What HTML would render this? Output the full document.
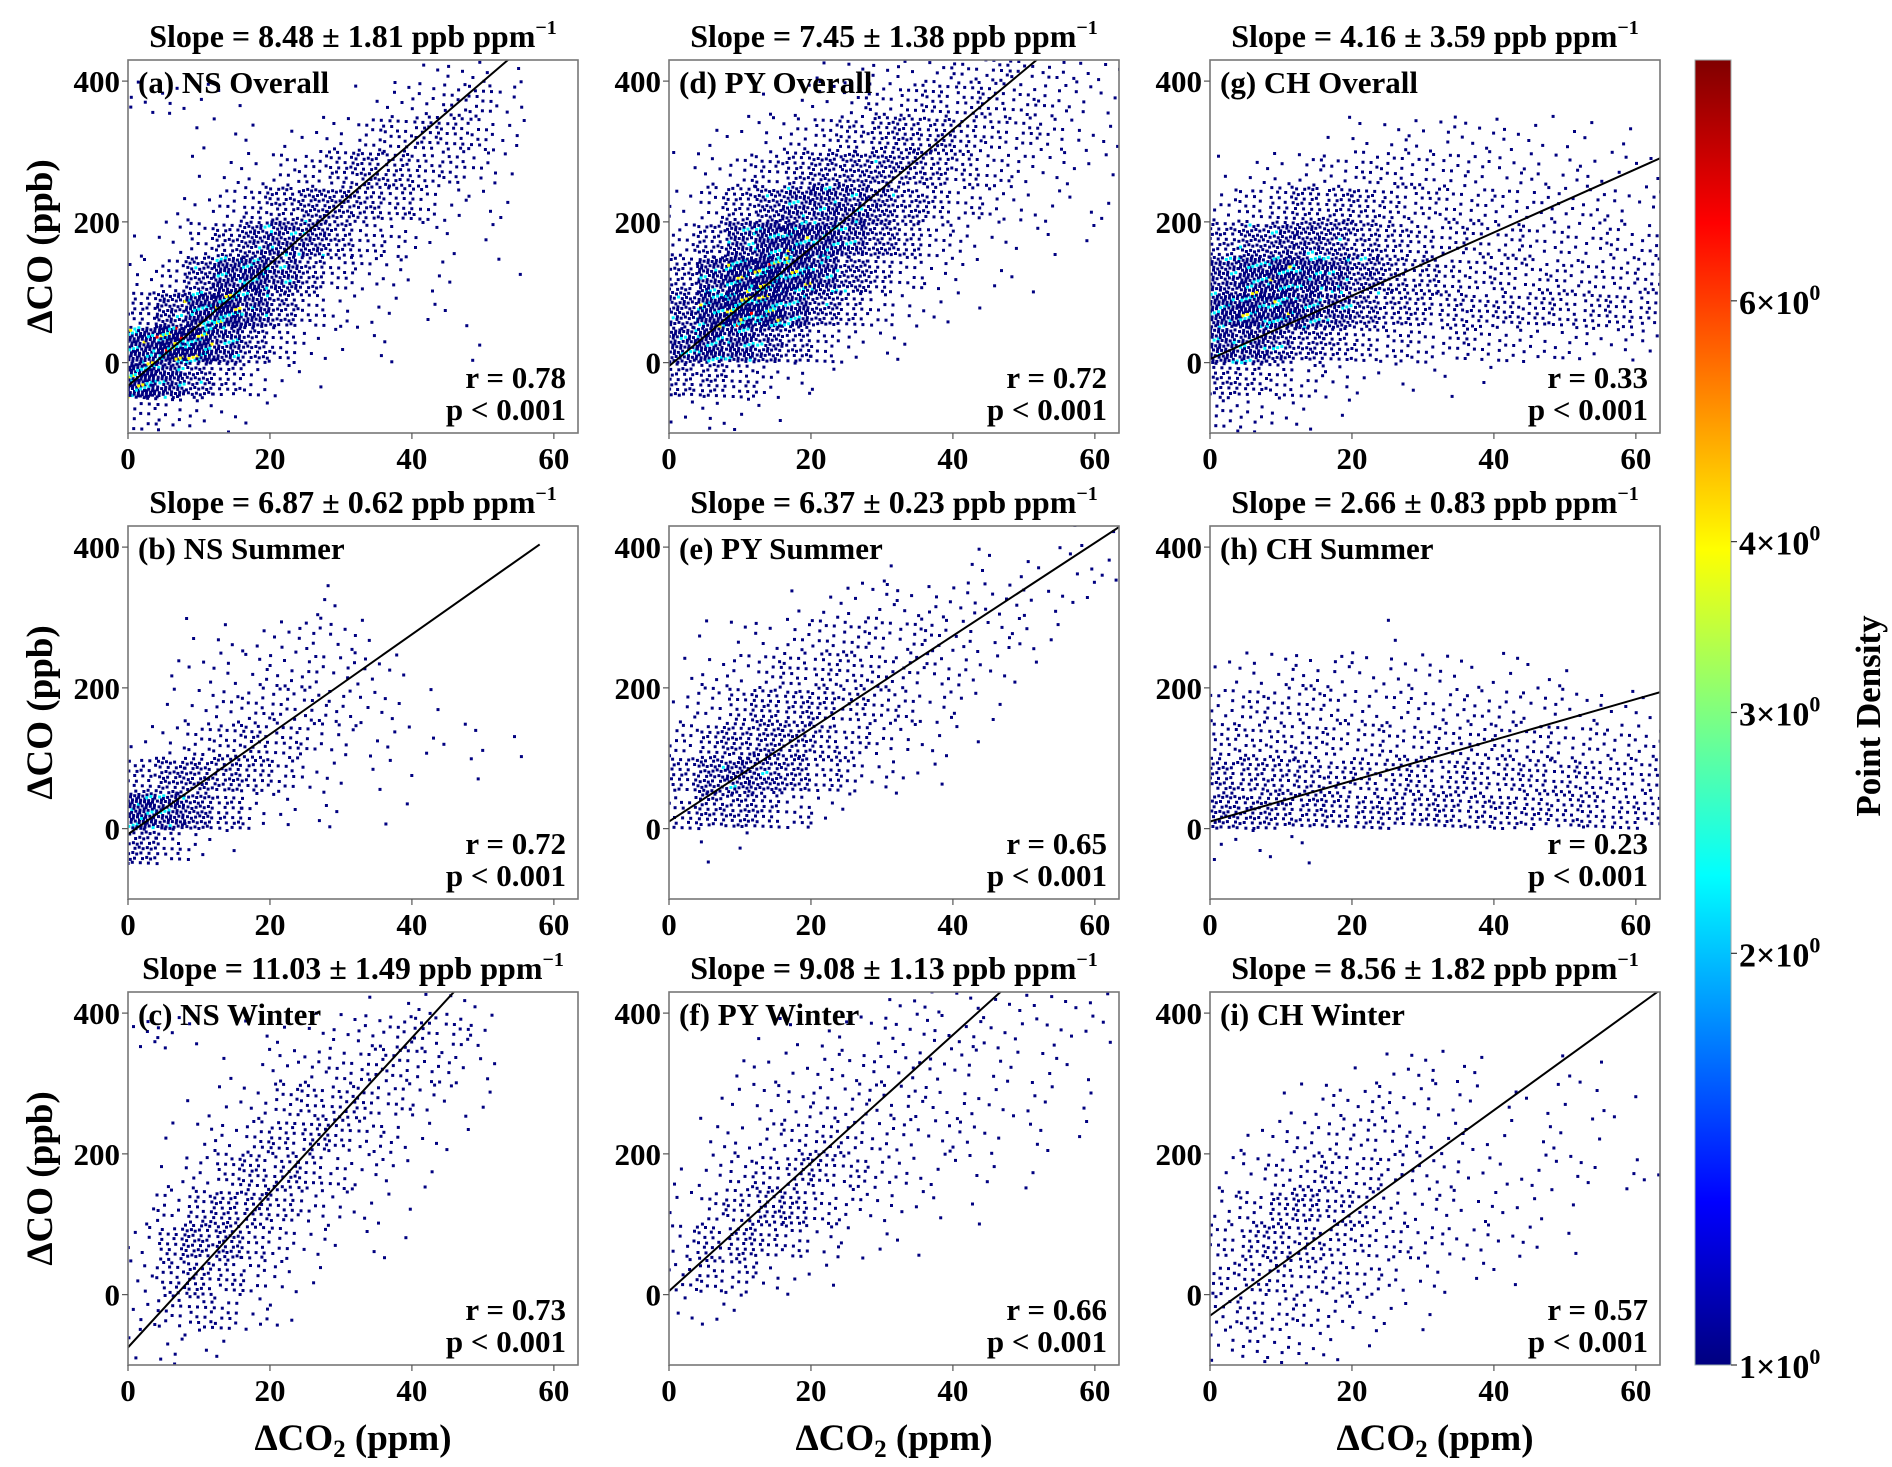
<!DOCTYPE html>
<html><head><meta charset="utf-8"><style>
html,body{margin:0;padding:0;background:#fff;}
svg{display:block;font-family:"Liberation Serif","DejaVu Serif",serif;font-weight:bold;}
</style></head><body>
<svg id="fig" width="1892" height="1467" viewBox="0 0 1892 1467" xmlns="http://www.w3.org/2000/svg">
<defs>
<linearGradient id="jet" x1="0" y1="1" x2="0" y2="0">
<stop offset="0" stop-color="#000080"/><stop offset="0.125" stop-color="#0000ff"/><stop offset="0.375" stop-color="#00ffff"/><stop offset="0.625" stop-color="#ffff00"/><stop offset="0.875" stop-color="#ff0000"/><stop offset="1" stop-color="#800000"/>
</linearGradient>
</defs>
<g id="panels"></g>
<g id="cbar"></g>
</svg>
<script>
// ---- data ----
const titles = ["Slope = 8.48 ± 1.81 ppb ppm","Slope = 6.87 ± 0.62 ppb ppm","Slope = 11.03 ± 1.49 ppb ppm",
 "Slope = 7.45 ± 1.38 ppb ppm","Slope = 6.37 ± 0.23 ppb ppm","Slope = 9.08 ± 1.13 ppb ppm",
 "Slope = 4.16 ± 3.59 ppb ppm","Slope = 2.66 ± 0.83 ppb ppm","Slope = 8.56 ± 1.82 ppb ppm"];
const panelLabels = ["(a) NS Overall","(b) NS Summer","(c) NS Winter","(d) PY Overall","(e) PY Summer","(f) PY Winter","(g) CH Overall","(h) CH Summer","(i) CH Winter"];
const rValues = ["0.78","0.72","0.73","0.72","0.65","0.66","0.33","0.23","0.57"];
const fitSlope = [8.65,7.1,11.0,8.4,6.6,9.1,4.5,2.9,7.3];
const fitIntercept = [-33,-8,-75,-5,10,5,5,10,-30];
const fitXMax = [63.4,58,63.4,63.4,63.4,63.4,63.4,63.4,63.4];
const xTicks = [0,20,40,60];
const yTicks = [0,200,400];
const cbTicks = [1,2,3,4,6];
const Z = [0,0,0,0,0,0,0,0,0,0,0,0,0,0,0,0];
// counts per cell: rows from y 400-450 down to -100..-50; cols x 0-4 ... 60-64
const countsA = [
[0,0,0,0,0,0,0,0,0,0,2,3,3,1,0,0],
[4,3,1,1,0,0,0,0,1,3,5,8,10,4,0,0],
[0,0,1,1,1,1,2,4,8,12,15,12,8,3,0,0],
[0,0,1,2,3,6,10,15,20,18,12,10,5,1,0,0],
[0,1,2,6,12,20,28,25,20,14,8,3,2,1,0,0],
[1,3,8,20,35,40,35,20,10,6,3,1,1,0,0,0],
[3,10,30,50,55,40,22,10,5,3,1,1,0,1,0,0],
[15,35,60,70,45,25,10,4,2,1,1,1,0,0,0,0],
[60,80,70,45,25,10,3,1,1,1,0,0,1,0,0,0],
[70,50,30,15,6,2,1,0,0,0,0,0,0,0,0,0],
[8,6,4,2,1,0,0,0,0,0,0,0,0,0,0,0]];
const countsB = [Z,Z,
[0,0,0,0,0,0,1,1,0,0,0,0,0,0,0,0],
[0,0,1,2,2,3,5,3,2,0,0,0,0,0,0,0],
[0,1,2,3,4,5,6,4,3,2,0,0,0,0,0,0],
[0,1,3,5,8,8,6,5,3,2,1,0,0,0,0,0],
[2,4,8,12,14,10,7,4,2,2,1,1,1,1,0,0],
[15,25,25,22,15,8,3,2,1,1,0,0,1,0,0,0],
[55,45,30,15,6,3,1,1,0,1,0,0,0,0,0,0],
[25,12,4,1,0,0,0,0,0,0,0,0,0,0,0,0],Z];
const countsC = [
[0,0,0,0,0,0,0,0,1,1,2,2,1,0,0,0],
[3,3,1,0,1,1,2,3,5,7,8,6,3,0,0,0],
[0,0,0,1,1,3,5,7,8,8,6,4,2,0,0,0],
[0,0,1,2,4,8,10,10,9,6,4,2,1,0,0,0],
[0,1,2,4,8,12,13,10,6,4,2,1,0,0,0,0],
[0,2,5,10,14,14,10,6,4,2,1,0,0,0,0,0],
[1,6,12,18,16,11,6,3,2,1,0,0,0,0,0,0],
[3,14,22,20,12,6,3,1,1,1,0,0,0,0,0,0],
[3,12,16,12,7,4,1,0,0,0,0,0,0,0,0,0],
[3,8,10,8,4,2,0,0,0,0,0,0,0,0,0,0],
[1,3,2,1,0,0,0,0,0,0,0,0,0,0,0,0]];
const countsD = [
[0,0,0,0,0,1,2,3,5,6,8,8,8,6,4,3],
[0,0,0,1,2,3,5,8,10,12,12,10,8,6,4,3],
[0,1,2,3,6,10,14,18,20,18,14,10,8,6,3,2],
[1,3,6,12,18,25,28,28,24,18,12,8,5,3,2,1],
[3,8,18,30,40,42,40,32,22,14,8,5,3,2,1,1],
[8,20,40,55,60,55,42,28,16,8,4,2,1,1,1,0],
[20,45,65,75,65,48,30,16,8,4,2,1,1,0,0,0],
[35,60,75,70,50,30,15,7,3,2,1,0,0,0,0,0],
[45,55,50,35,20,10,4,2,1,0,0,0,0,0,0,0],
[20,20,12,6,3,1,0,0,0,0,0,0,0,0,0,0],
[2,3,2,1,0,0,0,0,0,0,0,0,0,0,0,0]];
const countsE = [
[0,0,0,0,0,0,0,0,0,0,0,0,0,0,1,1],
[0,0,0,0,0,0,0,1,0,0,1,1,1,1,2,2],
[0,0,0,0,1,2,3,3,3,4,4,3,3,2,2,0],
[0,1,2,3,5,7,8,7,6,6,4,3,3,1,0,0],
[1,3,5,8,10,11,10,9,7,5,4,2,1,0,0,0],
[3,7,12,16,17,15,12,9,6,4,2,1,0,0,0,0],
[8,16,22,24,20,15,10,6,3,2,1,0,0,0,0,0],
[16,28,35,30,22,12,7,4,2,1,0,0,0,0,0,0],
[12,20,22,15,8,3,1,0,0,0,0,0,0,0,0,0],
[0,1,1,0,0,0,0,0,0,0,0,0,0,0,0,0],Z];
const countsF = [
[0,0,0,0,0,0,0,1,2,2,3,3,3,2,2,1],
[0,0,0,1,1,2,2,3,3,3,3,3,2,2,2,1],
[0,0,1,2,2,3,4,4,4,3,3,2,2,2,1,0],
[0,1,2,3,4,5,5,5,4,3,3,2,2,1,1,0],
[0,2,3,5,7,8,7,5,4,3,3,2,1,1,1,0],
[1,3,6,10,14,12,8,5,3,2,2,1,1,0,0,0],
[2,6,12,16,15,8,5,3,2,1,1,0,0,0,0,0],
[5,12,16,12,8,4,2,1,1,0,0,0,0,0,0,0],
[6,10,8,4,2,1,0,0,0,0,0,0,0,0,0,0],
[2,2,1,0,0,0,0,0,0,0,0,0,0,0,0,0],Z];
const countsG = [Z,Z,
[0,0,0,0,1,2,3,3,4,3,3,2,2,1,1,0],
[1,2,3,5,6,8,8,7,6,5,4,4,3,3,2,2],
[5,10,14,18,18,16,12,10,8,7,6,5,5,5,4,4],
[20,30,35,35,30,22,16,12,10,8,8,7,7,6,6,6],
[40,55,60,55,45,32,22,16,12,10,10,9,9,8,8,8],
[55,65,60,50,40,28,20,16,14,14,14,14,12,12,12,12],
[45,45,35,25,18,12,10,8,8,8,6,5,5,4,4,3],
[20,15,10,6,4,2,1,1,1,1,0,0,0,0,0,0],
[6,5,3,2,1,0,0,0,0,0,0,0,0,0,0,0]];
const countsH = [Z,Z,Z,
[0,0,0,0,0,0,1,0,0,0,0,0,0,0,0,0],
[2,3,4,5,4,3,3,3,3,2,2,1,1,0,0,0],
[6,8,8,8,7,5,5,5,5,5,5,4,4,3,2,2],
[10,10,10,10,9,8,8,8,8,8,8,8,7,7,6,5],
[20,18,16,15,14,13,13,13,13,13,13,13,12,12,10,10],
[25,22,20,18,16,16,16,16,16,15,15,15,14,14,12,10],
[2,1,1,1,0,0,0,0,0,0,0,0,0,0,0,0],Z];
const countsI = [Z,Z,
[0,0,0,0,0,1,2,3,2,1,0,0,1,1,0,0],
[0,0,1,2,4,4,4,3,2,1,1,1,1,1,1,0],
[0,2,3,5,6,6,5,4,3,2,1,1,1,1,0,0],
[2,4,6,8,9,8,6,4,3,2,2,2,2,2,1,2],
[4,8,14,16,12,8,5,4,3,2,2,1,1,0,0,0],
[8,12,14,12,10,8,6,5,4,3,2,2,1,0,0,0],
[8,10,10,8,8,6,4,2,1,1,1,0,0,0,0,0],
[6,8,7,6,5,3,2,1,0,0,0,0,0,0,0,0],
[4,5,4,3,2,1,0,0,0,0,0,0,0,0,0,0]];
const allCounts = [countsA,countsB,countsC,countsD,countsE,countsF,countsG,countsH,countsI];

// ---- layout ----
const NS="http://www.w3.org/2000/svg";
const PW=450, PH=373, XMAX=63.4, YMIN=-100, YMAX=430, BINX=4, BINY=50;
const DRAW_MULT=1.6, DOT=3;
const colLeft=[128,669,1210], rowTop=[60,526,992];
function mk(tag,attrs,parent){const e=document.createElementNS(NS,tag);for(const k in attrs)e.setAttribute(k,attrs[k]);parent.appendChild(e);return e;}
function jet(t){
 const st=[[0,0,0,128],[0.125,0,0,255],[0.375,0,255,255],[0.625,255,255,0],[0.875,255,0,0],[1,128,0,0]];
 t=Math.max(0,Math.min(1,t));
 for(let i=1;i<st.length;i++){if(t<=st[i][0]){const a=st[i-1],b=st[i],f=(t-a[0])/(b[0]-a[0]);
  return `rgb(${Math.round(a[1]+f*(b[1]-a[1]))},${Math.round(a[2]+f*(b[2]-a[2]))},${Math.round(a[3]+f*(b[3]-a[3]))})`;}}
 return "rgb(128,0,0)";
}
const VMAX=9;
function cval(v){return Math.log10(v)/Math.log10(VMAX);}
const root=document.getElementById('panels');

for(let p=0;p<9;p++){
 const col=Math.floor(p/3), row=p%3;
 const L=colLeft[col], T=rowTop[row], B=T+PH, R=L+PW;
 const xs=x=>L+x/XMAX*PW, ys=y=>B-(y-YMIN)/(YMAX-YMIN)*PH;
 const g=mk('g',{},root);
 
 
 const cp=mk('clipPath',{id:'cp'+p},g);
 mk('rect',{x:L,y:T,width:PW,height:PH},cp);
 const dots=mk('g',{'clip-path':`url(#cp${p})`},g);
 
 
 const counts=allCounts[p];
 for(let r=0;r<counts.length;r++){
  const y0=400-r*BINY;
  for(let c=0;c<counts[r].length;c++){
   const n=counts[r][c]; const x0=c*BINX;
   const m=Math.round(n*DRAW_MULT);
   for(let i=0;i<m;i++){
    const s=i+1+((r*16+c)*13.731+p*3.7);
    const fx=((0.5+0.7548776662*s)%1), fy=((0.5+0.5698402910*s)%1);
    const h=((i*0.618034+(r*16+c)*0.37)%1);
    let v=1;
    if(n>70 && h<(n-70)/300) v=7;
    else if(n>55 && h<(n-55)/250) v=4;
    else if(n>25 && h<(n-25)/220) v=2.2;
    const d=mk('rect',{x:(xs(x0+fx*BINX)-DOT/2).toFixed(1),y:(ys(y0+fy*BINY)-DOT/2).toFixed(1),width:DOT,height:DOT,fill:jet(cval(v))},dots);
    
    
   }
  }
 }
 const x2=Math.min(fitXMax[p],XMAX);
 const ln=mk('line',{x1:xs(0),y1:ys(fitIntercept[p]),x2:xs(x2),y2:ys(fitIntercept[p]+fitSlope[p]*x2),stroke:'#000','stroke-width':2,'clip-path':`url(#cp${p})`},g);
 
 
 const fr=mk('rect',{x:L,y:T,width:PW,height:PH,fill:'none',stroke:'#777','stroke-width':1.6},g);
 
 
 xTicks.forEach(t=>{
  const tk=mk('line',{x1:xs(t),x2:xs(t),y1:B,y2:B+6,stroke:'#555','stroke-width':1.2},g);
  
  
  const tl=mk('text',{x:xs(t),y:B+36,'font-size':31,'text-anchor':'middle'},g);
  tl.textContent=t;
  
  
 });
 yTicks.forEach(t=>{
  const tk=mk('line',{x1:L-6,x2:L,y1:ys(t),y2:ys(t),stroke:'#555','stroke-width':1.2},g);
  
  
  const tl=mk('text',{x:L-8,y:ys(t)+11,'font-size':31,'text-anchor':'end'},g);
  tl.textContent=t;
  
  
 });
 const ti=mk('text',{x:L+PW/2,y:T-13,'font-size':32,'text-anchor':'middle'},g);
 ti.textContent=titles[p];
 const sup=mk('tspan',{'font-size':20,dy:-13},ti); sup.textContent='−1';
 
 
 const pl=mk('text',{x:L+10,y:T+33,'font-size':31},g);
 pl.textContent=panelLabels[p];
 
 
 const rt=mk('text',{x:R-12,y:B-45,'font-size':31,'text-anchor':'end'},g);
 rt.textContent='r = '+rValues[p];
 
 
 const pt=mk('text',{x:R-12,y:B-13,'font-size':31,'text-anchor':'end'},g);
 pt.textContent='p < 0.001';
 
 
 if(col===0){
  const yl=mk('text',{x:0,y:0,'font-size':37,'text-anchor':'middle',transform:`translate(52,${T+PH/2}) rotate(-90)`},g);
  yl.textContent='ΔCO (ppb)';
  
  
 }
 if(row===2){
  const xl=mk('text',{x:L+PW/2,y:1450,'font-size':37,'text-anchor':'middle'},g);
  xl.textContent='ΔCO';
  const sb=mk('tspan',{'font-size':25,dy:7},xl); sb.textContent='2';
  const rest=mk('tspan',{dy:-7},xl); rest.textContent=' (ppm)';
  
  
 }
}
const cb=document.getElementById('cbar');
const CBX=1695, CBW=36, CBT=60, CBB=1365;
const cr=mk('rect',{x:CBX,y:CBT,width:CBW,height:CBB-CBT,fill:'url(#jet)',stroke:'#9aa','stroke-width':1},cb);


cbTicks.forEach(v=>{
 const y=CBB-(CBB-CBT)*cval(v);
 const tk=mk('line',{x1:CBX+CBW,x2:CBX+CBW+6,y1:y,y2:y,stroke:'#333','stroke-width':1.2},cb);
 
 
 const t=mk('text',{x:CBX+CBW+8,y:y+13,'font-size':34},cb);
 t.textContent=v+'×10';
 const s=mk('tspan',{'font-size':22,dy:-14},t); s.textContent='0';
 
 
});
const cl=mk('text',{x:0,y:0,'font-size':35,'text-anchor':'middle',transform:'translate(1880,716) rotate(-90)'},cb);
cl.textContent='Point Density';


</script>
</body></html>
